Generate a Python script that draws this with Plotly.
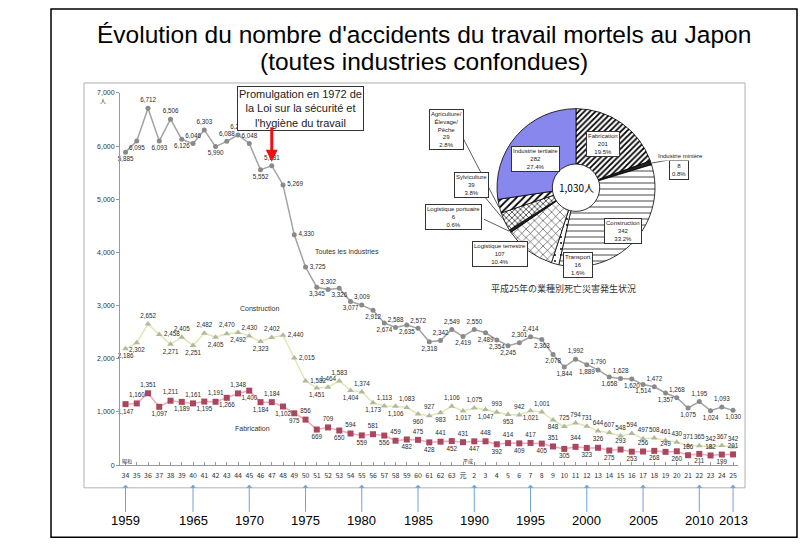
import plotly.graph_objects as go

# ---------------- data ----------------
years = list(range(1959, 2014))
era_labels = [str(n) for n in range(34, 64)] + ["元"] + [str(n) for n in range(2, 26)]

all_industries = [5885, 6095, 6712, 6093, 6506, 6126, 6046, 6303, 5990, 6088, 6208, 6048,
                  5552, 5631, 5269, 4330, 3725, 3345, 3302, 3326, 3077, 3009, 2912, 2674,
                  2588, 2635, 2572, 2318, 2342, 2549, 2419, 2550, 2489, 2354, 2245, 2301,
                  2414, 2363, 2078, 1844, 1992, 1889, 1790, 1658, 1628, 1620, 1514, 1472,
                  1357, 1268, 1075, 1195, 1024, 1093, 1030]
construction = [2186, 2302, 2652, 2458, 2271, 2405, 2251, 2482, 2405, 2470, 2492, 2430,
                2323, 2402, 2440, 2015, 1582, 1451, 1464, 1583, 1404, 1374, 1173, 1113,
                1106, 1083, 960, 927, 983, 1106, 1017, 1075, 1047, 993, 953, 942,
                1021, 1001, 848, 725, 794, 731, 644, 607, 548, 594, 497, 508,
                461, 430, 371, 365, 342, 367, 342]
fabrication = [1147, 1160, 1351, 1097, 1211, 1189, 1161, 1195, 1191, 1266, 1348, 1400,
               1184, 1184, 1102, 975, 856, 669, 709, 650, 594, 559, 581, 556,
               459, 482, 475, 428, 441, 452, 431, 447, 448, 392, 414, 409,
               417, 405, 351, 305, 344, 323, 326, 275, 293, 253, 256, 268,
               249, 260, 186, 211, 182, 199, 201]

arrow_years = [1959, 1965, 1970, 1975, 1980, 1985, 1990, 1995, 2000, 2005, 2010, 2013]

pie_labels = ["Fabrication", "Industrie minière", "Construction", "Transport",
              "Logistique terrestre", "Logistique portuaire", "Sylviculture",
              "Agriculture/<br>Élevage/<br>Pêche", "Industrie tertiaire"]
pie_values = [201, 8, 342, 16, 107, 6, 39, 29, 282]
pie_total = sum(pie_values)

W, H = 812, 556
FONT = "Liberation Sans"
JP = "Noto Sans CJK JP"


def px(x):
    return x / W


def py(y):
    return 1 - y / H


def label_positions(vals, steep=None):
    pos = []
    n = len(vals)
    for i, v in enumerate(vals):
        prev = vals[i - 1] if i > 0 else vals[i + 1]
        nxt = vals[i + 1] if i < n - 1 else vals[i - 1]
        if steep is not None and prev - nxt > steep:
            pos.append("middle right")
        elif v >= (prev + nxt) / 2:
            pos.append("top center")
        else:
            pos.append("bottom center")
    # avoid two neighbouring labels on the same side at nearly the same height
    for i in range(1, n):
        if pos[i] == pos[i - 1] and pos[i] != "middle right" and abs(vals[i] - vals[i - 1]) < 100:
            pos[i] = "top center" if pos[i] == "bottom center" else "bottom center"
    return pos


def note(text, x, y, size, family=FONT, color="#333", xref="paper", yref="paper", **kw):
    d = dict(text=text, x=x, y=y, xref=xref, yref=yref, showarrow=False,
             xanchor="center", yanchor="middle",
             font=dict(family=family, size=size, color=color))
    d.update(kw)
    return d


pos_all = label_positions(all_industries, 700)
pos_con = label_positions(construction, 380)
pos_fab = label_positions(fabrication)
# where the construction and manufacturing curves run close, split the labels
for i in range(len(years)):
    if construction[i] - fabrication[i] < 450:
        pos_con[i] = "top center"
        pos_fab[i] = "bottom center" if i % 2 else "top center"

fig = go.Figure()

series = [
    (all_industries, pos_all, "#a3a3a3", "#8a8a8a", "circle", 5),
    (construction, pos_con, "#dfe8b0", "#b3b89c", "triangle-up", 6),
    (fabrication, pos_fab, "#f0a9ba", "#a9475f", "square", 6),
]
for vals, pos, lc, mc, sym, ms in series:
    fig.add_trace(go.Scatter(
        x=years, y=vals, mode="lines+markers+text",
        line=dict(color=lc, width=1.5),
        marker=dict(color=mc, symbol=sym, size=ms),
        text=[f"{v:,}" for v in vals],
        textposition=pos,
        textfont=dict(family=FONT, size=6.3, color="#2a2a2a"),
        cliponaxis=False, showlegend=False, hoverinfo="x+y",
    ))

# ---------------- inset pie ----------------
pie_colors = ["white", "#222222", "white", "white", "white", "#222222", "white", "white", "#8787ee"]
pat_shapes = ["/", "", "-", ".", "x", "", "x", "/", ""]
pat_sizes = [4, 8, 6, 6, 6, 8, 4, 5, 8]
pat_sol = [0.45, 0.3, 0.12, 0.08, 0.15, 0.3, 0.3, 0.35, 0.3]
cx, cy, r = 576, 186, 80
fig.add_trace(go.Pie(
    labels=pie_labels, values=pie_values, sort=False, direction="clockwise", rotation=0,
    hole=0.3, textinfo="none", showlegend=False,
    marker=dict(colors=pie_colors, line=dict(color="black", width=0.8),
                pattern=dict(shape=pat_shapes, size=pat_sizes, solidity=pat_sol,
                             fgcolor="black", fillmode="replace")),
    domain=dict(x=[px(cx - r), px(cx + r)], y=[py(cy + r), py(cy - r)]),
))

annotations = []
shapes = []

# title
annotations.append(note("Évolution du nombre d'accidents du travail mortels au Japon",
                        px(424), py(31), 24.5, color="black"))
annotations.append(note("(toutes industries confondues)", px(424), py(58), 24.5, color="black"))

# series names
annotations += [
    note("Toutes les industries", 1978.7, 4010, 7, xref="x", yref="y"),
    note("Construction", 1970.9, 2952, 7, xref="x", yref="y"),
    note("Fabrication", 1970.3, 690, 7, xref="x", yref="y"),
]

# law annotation + red arrow
annotations.append(note(
    "Promulgation en 1972 de<br>la Loi sur la sécurité et<br>l'hygiène du travail",
    px(300.5), py(106), 11, color="#222", bgcolor="white",
    bordercolor="#333", borderwidth=1, borderpad=1))
annotations.append(dict(
    text="", x=1972, y=all_industries[years.index(1972)] + 75, xref="x", yref="y",
    ax=0, ay=-36, showarrow=True, arrowcolor="#ee1111", arrowwidth=3, arrowhead=2,
    arrowsize=0.8))

# unit and era markers
annotations += [
    note("人", px(103), py(98), 6, family=JP),
    note("昭和", 1959.1, py(463), 5, family=JP, xref="x"),
    note("平成", 1989.4, py(463), 5, family=JP, xref="x"),
]

# year arrows under the axis
for yr in arrow_years:
    annotations.append(dict(
        text=str(yr), x=yr, y=py(487), xref="x", yref="paper", ax=0, ay=36,
        showarrow=True, arrowcolor="#6fa0d8", arrowwidth=1, arrowhead=1, arrowsize=1,
        font=dict(family=FONT, size=13, color="black")))

# pie boxes
pie_boxes = {
    0: (603, 142), 2: (623, 230), 3: (578, 264), 4: (500, 253), 5: (453, 216),
    6: (471, 183), 7: (446, 127), 8: (535, 157),
}
for i, (bx, by) in pie_boxes.items():
    annotations.append(note(
        f"{pie_labels[i]}<br>{pie_values[i]}<br>{pie_values[i] / pie_total * 100:.1f}%",
        px(bx), py(by), 6, color="#222", bgcolor="white", bordercolor="#333",
        borderwidth=1, borderpad=1))
annotations.append(note(
    f"{pie_values[1]}<br>{pie_values[1] / pie_total * 100:.1f}%", px(679), py(168), 6,
    color="#222", bgcolor="white", bordercolor="#333", borderwidth=1, borderpad=2))
annotations.append(note(pie_labels[1], px(680), py(154), 6, color="#222", bgcolor="white"))
annotations.append(note(f"{pie_total:,}人", px(cx), py(cy), 10, family=JP, color="black"))
annotations.append(note("平成25年の業種別死亡災害発生状況", px(563), py(288), 9, family=JP))

# leader lines for small slices
for (x0, y0, x1, y1) in [(459, 128, 499, 206), (482, 192, 505, 220), (484, 218, 509, 230),
                         (652, 161, 669, 158)]:
    shapes.append(dict(type="line", xref="paper", yref="paper",
                       x0=px(x0), y0=py(y0), x1=px(x1), y1=py(y1),
                       line=dict(color="#333", width=0.8)))

# frames
shapes.append(dict(type="rect", xref="paper", yref="paper", x0=px(84), y0=py(490),
                   x1=px(745), y1=py(80), line=dict(color="#b0b0b0", width=1), layer="below"))
shapes.append(dict(type="rect", xref="paper", yref="paper", x0=px(51), y0=py(540),
                   x1=px(797), y1=py(5), line=dict(color="black", width=1.5)))

fig.update_layout(
    width=W, height=H, margin=dict(l=0, r=0, t=0, b=0),
    paper_bgcolor="white", plot_bgcolor="white",
    annotations=annotations, shapes=shapes, showlegend=False,
    xaxis=dict(domain=[px(120), px(738)], range=[1958.51, 2013.44],
               tickvals=years, ticktext=era_labels, tickangle=0,
               tickfont=dict(family=JP, size=7, color="#333"), ticklabelstandoff=3,
               showgrid=False, zeroline=False, showline=True, linecolor="#999",
               ticks="inside", ticklen=3, tickcolor="#999"),
    yaxis=dict(domain=[py(467), py(90)], range=[0, 7000],
               tickvals=[0, 1000, 2000, 3000, 4000, 5000, 6000, 7000], tickformat=",",
               tickfont=dict(family=FONT, size=7, color="#333"),
               showgrid=False, zeroline=False, showline=True, linecolor="#999",
               ticks="outside", ticklen=3, tickcolor="#999"),
)

fig.write_html("out.html", config={"displayModeBar": False},
               post_script="document.body.style.margin='0px';")
